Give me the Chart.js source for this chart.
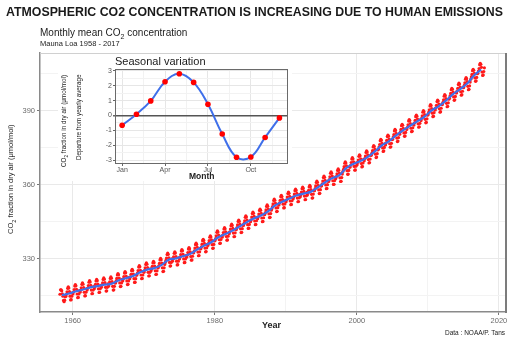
<!DOCTYPE html>
<html lang="en">
<head>
<meta charset="UTF-8">
<title>Atmospheric CO2</title>
<style>
    body { margin: 0; background: #fff; }
    #wrap { position: relative; width: 516px; height: 340px; overflow: hidden; font-family: "Liberation Sans", Arial, sans-serif; }
    .txt { position: absolute; white-space: nowrap; color: #222; line-height: 1; }
    .rot { transform-origin: 0 0; transform: rotate(-90deg); }
    #main { position: absolute; left: 0; top: 0; }
    #insetBox { position: absolute; left: 58px; top: 54px; width: 234px; height: 127px; background: #fff; }
    #inset { position: absolute; left: 0; top: 0; }
    #titre { transform-origin: 0 0; }
</style>
</head>
<body>
<div id="wrap">
    <canvas id="main" width="516" height="340"></canvas>

    <div id="titre" class="txt" style="left:6px; top:5px; font-size:13.5px; font-weight:bold; color:#1a1a1a;">ATMOSPHERIC CO2 CONCENTRATION IS INCREASING DUE TO HUMAN EMISSIONS</div>
    <div class="txt" style="left:40px; top:28px; font-size:10px;">Monthly mean CO<sub style="font-size:7px;">2</sub> concentration</div>
    <div class="txt" style="left:40px; top:40px; font-size:7.5px;">Mauna Loa 1958 - 2017</div>

    <div class="txt rot" style="left:7px; top:234px; font-size:7.5px; font-family:'Liberation Sans Narrow','Liberation Sans',sans-serif;">CO<sub style="font-size:5.5px;">2</sub> fraction in dry air (μmol/mol)</div>
    <div class="txt" style="left:262px; top:321px; font-size:9px; font-weight:bold;">Year</div>
    <div class="txt" style="left:445px; top:330px; font-size:6.5px;">Data : NOAA/P. Tans</div>

    <div id="insetBox">
        <canvas id="inset" width="234" height="127"></canvas>
        <div class="txt" style="left:57px; top:2px; font-size:11px; color:#1a1a1a;">Seasonal variation</div>
        <div class="txt rot" style="left:3px; top:113px; font-size:6.3px; font-family:'Liberation Sans Narrow','Liberation Sans',sans-serif;">CO<sub style="font-size:4.8px;">2</sub> fraction in dry air (μmol/mol)</div>
        <div class="txt rot" style="left:18px; top:106px; font-size:6.3px; font-family:'Liberation Sans Narrow','Liberation Sans',sans-serif;">Departure from yearly average</div>
        <div class="txt" style="left:131px; top:118px; font-size:8.5px; font-weight:bold;">Month</div>
    </div>
</div>

<script src="https://cdn.jsdelivr.net/npm/chart.js"></script>
<script>
    // monthly means, one row per year (Jan..Dec), starting 1958
    const firstYear = 1958;
    const monthlyCO2 = [
        [null, null, 315.7, 317.5, 317.5, 317.1, 315.9, 314.9, 313.2, 312.7, 313.3, 314.7], // 1958
        [314.9, 315.7, 316.7, 318.1, 318.7, 318.2, 316.8, 314.9, 313.4, 313.5, 314.9, 316.3],
        [315.8, 316.6, 317.6, 319.0, 319.6, 319.1, 317.7, 315.8, 314.3, 314.4, 315.8, 317.2], // 1960
        [316.5, 317.3, 318.3, 319.7, 320.3, 319.8, 318.4, 316.5, 315.0, 315.1, 316.5, 317.9],
        [317.4, 318.2, 319.2, 320.6, 321.2, 320.7, 319.3, 317.4, 315.9, 316.0, 317.4, 318.8],
        [317.9, 318.7, 319.7, 321.1, 321.7, 321.2, 319.8, 317.9, 316.4, 316.5, 317.9, 319.3],
        [318.5, 319.3, 320.3, 321.7, 322.3, 321.8, 320.4, 318.5, 317.0, 317.1, 318.5, 319.9],
        [318.9, 319.7, 320.7, 322.1, 322.7, 322.2, 320.8, 318.9, 317.4, 317.5, 318.9, 320.3],
        [320.3, 321.1, 322.1, 323.5, 324.1, 323.6, 322.2, 320.3, 318.8, 318.9, 320.3, 321.7],
        [321.1, 321.9, 322.9, 324.3, 324.9, 324.4, 323.0, 321.1, 319.6, 319.7, 321.1, 322.5],
        [322.0, 322.8, 323.8, 325.2, 325.8, 325.3, 323.9, 322.0, 320.5, 320.6, 322.0, 323.4],
        [323.5, 324.3, 325.3, 326.7, 327.3, 326.8, 325.4, 323.5, 322.0, 322.1, 323.5, 324.9],
        [324.6, 325.4, 326.4, 327.8, 328.4, 327.9, 326.5, 324.6, 323.1, 323.2, 324.6, 326.0], // 1970
        [325.2, 326.0, 327.0, 328.4, 329.0, 328.5, 327.1, 325.2, 323.7, 323.8, 325.2, 326.6],
        [326.4, 327.2, 328.2, 329.6, 330.2, 329.7, 328.3, 326.4, 324.9, 325.0, 326.4, 327.8],
        [328.6, 329.4, 330.4, 331.8, 332.4, 331.9, 330.5, 328.6, 327.1, 327.2, 328.6, 330.0],
        [329.1, 329.9, 330.9, 332.3, 332.9, 332.4, 331.0, 329.1, 327.6, 327.7, 329.1, 330.5],
        [330.0, 330.8, 331.8, 333.2, 333.8, 333.3, 331.9, 330.0, 328.5, 328.6, 330.0, 331.4],
        [330.7, 331.5, 332.6, 334.0, 334.6, 334.1, 332.9, 331.0, 329.5, 329.6, 331.1, 332.5],
        [332.5, 333.3, 334.4, 335.8, 336.4, 335.9, 334.7, 332.8, 331.3, 331.4, 332.9, 334.3],
        [334.1, 334.9, 336.0, 337.4, 338.0, 337.5, 336.3, 334.4, 332.9, 333.0, 334.5, 335.9],
        [335.5, 336.3, 337.4, 338.8, 339.4, 338.9, 337.7, 335.8, 334.3, 334.4, 335.9, 337.3],
        [337.5, 338.3, 339.4, 340.8, 341.4, 340.9, 339.7, 337.8, 336.3, 336.4, 337.9, 339.3], // 1980
        [338.8, 339.6, 340.7, 342.1, 342.7, 342.2, 341.0, 339.1, 337.6, 337.7, 339.2, 340.6],
        [340.2, 341.0, 342.1, 343.5, 344.1, 343.6, 342.4, 340.5, 339.0, 339.1, 340.6, 342.0],
        [341.9, 342.7, 343.8, 345.2, 345.8, 345.3, 344.1, 342.2, 340.7, 340.8, 342.3, 343.7],
        [343.6, 344.4, 345.5, 346.9, 347.5, 347.0, 345.8, 343.9, 342.4, 342.5, 344.0, 345.4],
        [345.1, 345.9, 347.0, 348.4, 349.0, 348.5, 347.3, 345.4, 343.9, 344.0, 345.5, 346.9],
        [346.3, 347.1, 348.2, 349.6, 350.2, 349.7, 348.5, 346.6, 345.1, 345.2, 346.7, 348.1],
        [348.0, 348.8, 349.9, 351.3, 351.9, 351.4, 350.2, 348.3, 346.8, 346.9, 348.4, 349.8],
        [350.4, 351.2, 352.3, 353.7, 354.3, 353.8, 352.6, 350.7, 349.2, 349.3, 350.8, 352.2],
        [351.9, 352.7, 353.8, 355.2, 355.8, 355.3, 354.1, 352.2, 350.7, 350.8, 352.3, 353.7],
        [353.2, 354.0, 355.1, 356.5, 357.1, 356.6, 355.4, 353.5, 352.0, 352.1, 353.6, 355.0], // 1990
        [354.4, 355.2, 356.3, 357.7, 358.3, 357.8, 356.6, 354.7, 353.2, 353.3, 354.8, 356.2],
        [355.2, 356.0, 357.1, 358.5, 359.1, 358.6, 357.4, 355.5, 354.0, 354.1, 355.6, 357.0],
        [355.9, 356.7, 357.8, 359.2, 359.8, 359.3, 358.1, 356.2, 354.7, 354.8, 356.3, 357.7],
        [357.7, 358.5, 359.6, 361.0, 361.6, 361.1, 359.9, 358.0, 356.5, 356.6, 358.1, 359.5],
        [359.7, 360.5, 361.6, 363.0, 363.6, 363.1, 361.9, 360.0, 358.5, 358.6, 360.1, 361.5],
        [361.4, 362.2, 363.3, 364.7, 365.3, 364.8, 363.6, 361.7, 360.2, 360.3, 361.8, 363.2],
        [362.6, 363.4, 364.5, 365.9, 366.5, 366.0, 364.8, 362.9, 361.4, 361.5, 363.0, 364.4],
        [365.5, 366.3, 367.4, 368.8, 369.4, 368.9, 367.7, 365.8, 364.3, 364.4, 365.9, 367.3],
        [367.2, 368.0, 369.1, 370.5, 371.1, 370.6, 369.4, 367.5, 366.0, 366.1, 367.6, 369.0],
        [368.2, 369.1, 370.1, 371.6, 372.2, 371.8, 370.6, 368.7, 367.3, 367.5, 368.9, 370.4], // 2000
        [369.8, 370.7, 371.7, 373.2, 373.8, 373.4, 372.2, 370.3, 368.9, 369.1, 370.5, 372.0],
        [372.0, 372.9, 373.9, 375.4, 376.0, 375.6, 374.4, 372.5, 371.1, 371.3, 372.7, 374.2],
        [374.5, 375.4, 376.4, 377.9, 378.5, 378.1, 376.9, 375.0, 373.6, 373.8, 375.2, 376.7],
        [376.2, 377.1, 378.1, 379.6, 380.2, 379.8, 378.6, 376.7, 375.3, 375.5, 376.9, 378.4],
        [378.5, 379.4, 380.4, 381.9, 382.5, 382.1, 380.9, 379.0, 377.6, 377.8, 379.2, 380.7],
        [380.6, 381.5, 382.5, 384.0, 384.6, 384.2, 383.0, 381.1, 379.7, 379.9, 381.3, 382.8],
        [382.5, 383.4, 384.4, 385.9, 386.5, 386.1, 384.9, 383.0, 381.6, 381.8, 383.2, 384.7],
        [384.3, 385.2, 386.2, 387.7, 388.3, 387.9, 386.7, 384.8, 383.4, 383.6, 385.0, 386.5],
        [386.1, 387.0, 388.0, 389.5, 390.1, 389.7, 388.5, 386.6, 385.2, 385.4, 386.8, 388.3],
        [388.6, 389.5, 390.5, 392.0, 392.6, 392.2, 391.0, 389.1, 387.7, 387.9, 389.3, 390.8], // 2010
        [390.4, 391.3, 392.3, 393.8, 394.4, 394.0, 392.8, 390.9, 389.5, 389.7, 391.1, 392.6],
        [392.6, 393.5, 394.5, 396.0, 396.6, 396.2, 395.0, 393.1, 391.7, 391.9, 393.3, 394.8],
        [395.2, 396.1, 397.1, 398.6, 399.2, 398.8, 397.6, 395.7, 394.3, 394.5, 395.9, 397.4],
        [397.3, 398.2, 399.2, 400.7, 401.3, 400.9, 399.7, 397.8, 396.4, 396.6, 398.0, 399.5],
        [399.5, 400.4, 401.4, 402.9, 403.5, 403.1, 401.9, 400.0, 398.6, 398.8, 400.2, 401.7],
        [402.9, 403.8, 404.8, 406.3, 406.9, 406.5, 405.3, 403.4, 402.0, 402.2, 403.6, 405.1],
        [405.3, 406.2, 407.2, 408.7, 409.3, 408.9, 407.7, 405.8, 404.4, 404.6, 406.0, 407.5]  // 2017
    ];

    // smoothed trend (yearly level), 1958..2017
    const trendCO2 = [315.3, 316.0, 316.9, 317.6, 318.5, 319.0, 319.6, 320.0, 321.4, 322.2,
        323.1, 324.6, 325.7, 326.3, 327.5, 329.7, 330.2, 331.1, 332.0, 333.8,
        335.4, 336.8, 338.8, 340.1, 341.5, 343.2, 344.9, 346.4, 347.6, 349.3,
        351.7, 353.2, 354.5, 355.7, 356.5, 357.2, 359.0, 361.0, 362.7, 363.9,
        366.8, 368.5, 369.7, 371.3, 373.5, 376.0, 377.7, 380.0, 382.1, 384.0,
        385.8, 387.6, 390.1, 391.9, 394.1, 396.7, 398.8, 401.0, 404.4, 406.8];

    const xMajor = [1960, 1980, 2000, 2020];
    const xMinor = [1970, 1990, 2010];
    const yMajor = [330, 360, 390];
    const yMinor = [315, 345, 375, 405];

    // inset : departure from yearly average
    const months = [1, 2, 3, 4, 5, 6, 7, 8, 9, 10, 11, 12];
    const seasonal = [-0.65, 0.09, 0.98, 2.27, 2.8, 2.22, 0.76, -1.24, -2.8, -2.78, -1.47, -0.16];
    const monthTickPos = [1, 4, 7, 10];
    const monthTickLabels = ['Jan', 'Apr', 'Jul', 'Oct'];
    const monthMinor = [2.5, 5.5, 8.5, 11.5];
    const seasonTicks = [-3, -2, -1, 0, 1, 2, 3];
    const seasonMinor = [-2.5, -1.5, -0.5, 0.5, 1.5, 2.5];

    // title squeezed to the width of the plot frame
    const titre = document.getElementById('titre');
    titre.style.transform = 'scaleX(' + (497 / titre.getBoundingClientRect().width) + ')';

    const monthlyPoints = [];
    for (let i = 0; i < monthlyCO2.length; i++) {
        for (let m = 0; m < 12; m++) {
            if (monthlyCO2[i][m] !== null) {
                monthlyPoints.push({ x: firstYear + i + (m + 0.5) / 12, y: monthlyCO2[i][m] });
            }
        }
    }
    const trendPoints = trendCO2.map(function (v, i) { return { x: firstYear + i + 0.5, y: v }; });

    const fontTick = { family: "'Liberation Sans', Arial, sans-serif", size: 7.5 };

    const framePlugin = {
        id: 'frame',
        afterDraw(chart) {
            const ctx = chart.ctx;
            const a = chart.chartArea;
            ctx.save();
            ctx.strokeStyle = '#d0d0d0';
            ctx.lineWidth = 1;
            ctx.beginPath();
            ctx.moveTo(a.left, a.top + 0.5);
            ctx.lineTo(a.right, a.top + 0.5);
            ctx.stroke();
            ctx.strokeStyle = '#7c7c7c';
            ctx.lineWidth = 2;
            ctx.beginPath();
            ctx.moveTo(a.right, a.top);
            ctx.lineTo(a.right, a.bottom + 1);
            ctx.stroke();
            ctx.restore();
        }
    };

    new Chart(document.getElementById('main'), {
        type: 'scatter',
        data: {
            datasets: [{
                label: 'Trend',
                data: trendPoints,
                showLine: true,
                borderColor: '#3F6FEA',
                borderWidth: 2.2,
                pointRadius: 0,
                tension: 0.4
            }, {
                label: 'Monthly',
                data: monthlyPoints,
                showLine: false,
                pointRadius: 1.6,
                pointBorderWidth: 0,
                backgroundColor: '#ff1a1a'
            }]
        },
        options: {
            responsive: false,
            animation: false,
            layout: { padding: { top: 53, right: 10, left: 0, bottom: 0 } },
            plugins: { legend: { display: false }, tooltip: { enabled: false } },
            scales: {
                x: {
                    type: 'linear',
                    min: 1955.4,
                    max: 2021,
                    afterBuildTicks: function (s) {
                        s.ticks = xMajor.concat(xMinor).sort().map(function (v) { return { value: v }; });
                    },
                    afterFit: function (s) { s.height = 28; },
                    ticks: {
                        autoSkip: false,
                        maxRotation: 0,
                        padding: 1,
                        color: '#6b6b6b',
                        font: fontTick,
                        callback: function (v) { return xMajor.includes(v) ? String(v) : ''; }
                    },
                    grid: {
                        color: function (c) { return c.tick && xMajor.includes(c.tick.value) ? '#e9e9e9' : '#f3f3f3'; },
                        tickColor: function (c) { return c.tick && xMajor.includes(c.tick.value) ? '#777' : 'rgba(0,0,0,0)'; },
                        tickLength: 3
                    },
                    border: { display: true, color: '#8a8a8a', width: 1.5 }
                },
                y: {
                    min: 308.5,
                    max: 413.5,
                    afterBuildTicks: function (s) {
                        s.ticks = yMajor.concat(yMinor).sort().map(function (v) { return { value: v }; });
                    },
                    afterFit: function (s) { s.width = 40; },
                    ticks: {
                        autoSkip: false,
                        padding: 2,
                        color: '#6b6b6b',
                        font: fontTick,
                        callback: function (v) { return yMajor.includes(v) ? String(v) : ''; }
                    },
                    grid: {
                        color: function (c) { return c.tick && yMajor.includes(c.tick.value) ? '#e9e9e9' : '#f3f3f3'; },
                        tickColor: function (c) { return c.tick && yMajor.includes(c.tick.value) ? '#777' : 'rgba(0,0,0,0)'; },
                        tickLength: 3
                    },
                    border: { display: true, color: '#8a8a8a', width: 1.5 }
                }
            }
        },
        plugins: [framePlugin]
    });

    const panelPlugin = {
        id: 'panel',
        afterDraw(chart) {
            const ctx = chart.ctx;
            const a = chart.chartArea;
            ctx.save();
            ctx.strokeStyle = '#6a6a6a';
            ctx.lineWidth = 1;
            ctx.strokeRect(a.left + 0.5, a.top + 0.5, a.right - a.left - 1, a.bottom - a.top - 1);
            ctx.restore();
        }
    };

    new Chart(document.getElementById('inset'), {
        type: 'scatter',
        data: {
            datasets: [{
                label: 'Months',
                data: months.map(function (m, i) { return { x: m, y: seasonal[i] }; }),
                showLine: false,
                pointRadius: 2.8,
                pointBorderWidth: 0,
                backgroundColor: '#ff0000'
            }, {
                label: 'Fit',
                data: months.map(function (m, i) { return { x: m, y: seasonal[i] }; }),
                showLine: true,
                borderColor: '#3F6FEA',
                borderWidth: 2,
                pointRadius: 0,
                tension: 0.4
            }]
        },
        options: {
            responsive: false,
            animation: false,
            layout: { padding: { top: 15, right: 4, left: 0, bottom: 0 } },
            plugins: { legend: { display: false }, tooltip: { enabled: false } },
            scales: {
                x: {
                    type: 'linear',
                    min: 0.5,
                    max: 12.6,
                    afterBuildTicks: function (s) {
                        s.ticks = monthTickPos.concat(monthMinor).sort(function (a, b) { return a - b; }).map(function (v) { return { value: v }; });
                    },
                    afterFit: function (s) { s.height = 17; },
                    ticks: {
                        autoSkip: false,
                        maxRotation: 0,
                        padding: 0,
                        color: '#555',
                        font: { family: fontTick.family, size: 7 },
                        callback: function (v) {
                            const k = monthTickPos.indexOf(v);
                            return k >= 0 ? monthTickLabels[k] : '';
                        }
                    },
                    grid: {
                        color: function (c) { return c.tick && monthTickPos.includes(c.tick.value) ? '#e6e6e6' : '#f2f2f2'; },
                        tickColor: function (c) { return c.tick && monthTickPos.includes(c.tick.value) ? '#666' : 'rgba(0,0,0,0)'; },
                        tickLength: 2
                    },
                    border: { display: false }
                },
                y: {
                    min: -3.25,
                    max: 3.12,
                    afterBuildTicks: function (s) {
                        s.ticks = seasonTicks.concat(seasonMinor).sort(function (a, b) { return a - b; }).map(function (v) { return { value: v }; });
                    },
                    afterFit: function (s) { s.width = 57; },
                    ticks: {
                        autoSkip: false,
                        padding: 1,
                        color: '#555',
                        font: { family: fontTick.family, size: 7 },
                        callback: function (v) { return seasonTicks.includes(v) ? String(v) : ''; }
                    },
                    grid: {
                        color: function (c) {
                            if (!c.tick) return '#f2f2f2';
                            if (c.tick.value === 0) return '#555';
                            return seasonTicks.includes(c.tick.value) ? '#e6e6e6' : '#f2f2f2';
                        },
                        lineWidth: function (c) { return c.tick && c.tick.value === 0 ? 1.5 : 1; },
                        tickColor: function (c) { return c.tick && seasonTicks.includes(c.tick.value) ? '#666' : 'rgba(0,0,0,0)'; },
                        tickLength: 2
                    },
                    border: { display: false }
                }
            }
        },
        plugins: [panelPlugin]
    });
</script>
</body>
</html>
